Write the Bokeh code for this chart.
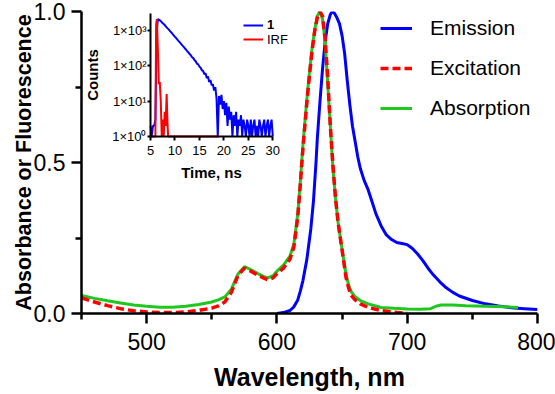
import numpy as np
from bokeh.plotting import figure
from bokeh.models import (Range1d, LinearAxis, FixedTicker, PrintfTickFormatter,
                          LogScale, Legend, LegendItem)
from bokeh.embed import file_html
from bokeh.resources import INLINE

FONT = "Liberation Sans"

# ---------------- data ----------------
em_wl = [600, 605, 610, 613, 616, 618, 620, 623, 626, 628, 630, 631, 633, 635, 637, 639, 641,
         642.5, 644, 646, 648, 650, 652, 654, 656, 658, 660, 662, 664, 667, 670, 673, 676, 680,
         684, 688, 692, 696, 700, 704, 708, 712, 716, 720, 725, 730, 735, 740, 750, 760, 770,
         780, 790, 800]
em_val = [0.0, 0.003, 0.010, 0.022, 0.045, 0.075, 0.11, 0.18, 0.28, 0.37, 0.50, 0.58, 0.70,
          0.81, 0.90, 0.96, 0.99, 1.0, 0.995, 0.98, 0.96, 0.92, 0.86, 0.77, 0.69, 0.62, 0.57,
          0.52, 0.48, 0.44, 0.41, 0.37, 0.33, 0.29, 0.26, 0.245, 0.235, 0.232, 0.228, 0.215,
          0.197, 0.175, 0.150, 0.128, 0.105, 0.085, 0.070, 0.058, 0.043, 0.032, 0.025, 0.019,
          0.016, 0.013]

abs_wl = [450, 460, 470, 480, 490, 500, 510, 520, 530, 540, 550, 555, 560, 565, 570, 575, 580,
          585, 590, 593, 597, 600, 605, 610, 613, 616, 618, 620, 623, 625, 627, 629, 631, 633,
          635, 637, 639, 641, 643, 645, 647, 649, 651, 653, 655, 657, 660, 664, 670, 680, 690,
          700, 710, 718, 722, 726, 735, 745, 760, 775, 785]
abs_val = [0.060, 0.050, 0.042, 0.035, 0.028, 0.024, 0.021, 0.021, 0.024, 0.030, 0.038, 0.045,
           0.055, 0.080, 0.130, 0.155, 0.145, 0.133, 0.122, 0.118, 0.125, 0.140, 0.160, 0.190,
           0.230, 0.330, 0.440, 0.560, 0.710, 0.800, 0.880, 0.940, 0.985, 1.000, 0.975, 0.900,
           0.760, 0.620, 0.480, 0.380, 0.300, 0.240, 0.185, 0.130, 0.095, 0.072, 0.056, 0.043,
           0.032, 0.020, 0.017, 0.015, 0.014, 0.016, 0.024, 0.028, 0.028, 0.026, 0.024, 0.022,
           0.020]

exc_wl = [450, 460, 470, 480, 490, 500, 510, 520, 530, 540, 550, 555, 560, 565, 570, 575, 580,
          585, 590, 593, 597, 600, 605, 610, 613, 616, 618, 620, 623, 625, 627, 629, 631, 633,
          635, 637, 639, 641, 643, 645, 647, 649, 651, 653, 655, 657, 660, 664, 670, 680, 690,
          700]
exc_val = [0.052, 0.038, 0.026, 0.016, 0.009, 0.005, 0.003, 0.003, 0.005, 0.010, 0.018, 0.025,
           0.038, 0.070, 0.125, 0.150, 0.140, 0.128, 0.117, 0.112, 0.118, 0.132, 0.150, 0.180,
           0.220, 0.320, 0.430, 0.550, 0.700, 0.790, 0.870, 0.935, 0.980, 1.000, 0.985, 0.910,
           0.780, 0.620, 0.490, 0.380, 0.300, 0.240, 0.180, 0.120, 0.085, 0.060, 0.045, 0.032,
           0.020, 0.010, 0.004, 0.001]

# inset: fluorescence decay of 1 and instrument response (IRF)
decay_t = [5.0, 5.25, 5.5, 5.75, 6.0, 6.25, 6.5, 6.75, 7.0, 7.25, 7.5, 7.75, 8.0, 8.25, 8.5,
           8.75, 9.0, 9.25, 9.5, 9.75, 10.0, 10.25, 10.5, 10.75, 11.0, 11.25, 11.5, 11.75, 12.0,
           12.25, 12.5, 12.75, 13.0, 13.25, 13.5, 13.75, 14.0, 14.25, 14.5, 14.75, 15.0, 15.25,
           15.5, 15.75, 16.0, 16.25, 16.5, 16.75, 17.0, 17.25, 17.5, 17.75, 18.0, 18.25, 18.5,
           18.75, 19.0, 19.25, 19.5, 19.75, 20.0, 20.25, 20.5, 20.75, 21.0, 21.25, 21.5, 21.75,
           22.0, 22.25, 22.5, 22.75, 23.0, 23.25, 23.5, 23.75, 24.0, 24.25, 24.5, 24.75, 25.0,
           25.25, 25.5, 25.75, 26.0, 26.25, 26.5, 26.75, 27.0, 27.25, 27.5, 27.75, 28.0, 28.25,
           28.5, 28.75, 29.0, 29.25, 29.5, 29.75, 30.0]
decay_counts = [2, 1, 2, 2, 3, 800, 2100, 2000, 1900, 1750, 1600, 1500, 1380, 1250, 1150, 1060,
                960, 880, 800, 730, 660, 610, 550, 500, 460, 420, 380, 350, 315, 290, 260, 240,
                215, 200, 175, 165, 145, 135, 115, 110, 95, 88, 75, 72, 58, 62, 45, 50, 35, 40,
                28, 30, 20, 25, 12, 1, 14, 8, 15, 6, 10, 4, 9, 2, 7, 3, 5, 1, 4, 2, 5, 1, 3, 2,
                4, 1, 3, 2, 1, 3, 2, 1, 3, 1, 2, 3, 1, 2, 1, 3, 2, 1, 2, 3, 1, 2, 3, 1, 2, 3, 1]

irf_t = [5.0, 6.0, 6.15, 6.3, 6.5, 6.7, 6.9, 7.1, 7.3, 7.5, 7.7, 7.9, 8.1, 8.3, 8.45, 8.6,
         19.0]
irf_counts = [1, 1, 1500, 2100, 300, 30, 35, 10, 1, 3, 1, 5, 2, 16, 3, 1, 1]

x_ticks = [500, 600, 700, 800]
x_minor = [450, 550, 650, 750]
y_ticks = [0.0, 0.5, 1.0]
y_minor = [0.25, 0.75]
t_ticks = [5, 10, 15, 20, 25, 30]
c_ticks = [1, 10, 100, 1000]
c_labels = ["1×10⁰", "1×10¹", "1×10²", "1×10³"]

x_title = "Wavelength, nm"
y_title = "Absorbance or Fluorescence"

# ---------------- layout geometry (pixels) ----------------
W, H = 555, 394
FL, FR, FT, FB = 81, 537, 11, 313          # plot frame
IX0, IX1 = 150.0, 272.3                    # inset: pixel of t=5 and t=30
IY0, IY1 = 136.0, 30.0                     # inset: pixel of counts 1 and 1000

kx = (IX1 - IX0) / (t_ticks[-1] - t_ticks[0])
t_start = t_ticks[0] - (IX0 - FL) / kx
t_end = t_ticks[-1] + (FR - IX1) / kx
ky = (IY0 - IY1) / 3.0
lg_start = 0 - (FB - IY0) / ky
lg_end = 3 + (IY1 - FT) / ky

p = figure(width=W, height=H, x_range=Range1d(450, 800), y_range=Range1d(0, 1.0),
           output_backend="svg", toolbar_location=None,
           min_border_left=FL, min_border_right=W - FR, min_border_top=FT,
           min_border_bottom=H - FB, x_axis_type=None, y_axis_type=None)
p.outline_line_color = None
p.background_fill_color = "white"
p.border_fill_color = "white"

p.extra_x_ranges = {"tx": Range1d(t_start, t_end)}
p.extra_y_ranges = {"ty": Range1d(10 ** lg_start, 10 ** lg_end)}
p.extra_y_scales = {"ty": LogScale()}

# ---------------- axes ----------------
def style_axis(ax, lw, tick_out, minor_out, label_size, title_size):
    ax.axis_line_width = lw
    ax.axis_line_color = "black"
    ax.major_tick_line_width = lw
    ax.minor_tick_line_width = lw
    ax.major_tick_line_color = "black"
    ax.minor_tick_line_color = "black"
    ax.major_tick_in = 0
    ax.minor_tick_in = 0
    ax.major_tick_out = tick_out
    ax.minor_tick_out = minor_out
    ax.major_label_text_font = FONT
    ax.major_label_text_font_size = label_size
    ax.major_label_text_color = "black"
    ax.axis_label_text_font = FONT
    ax.axis_label_text_font_size = title_size
    ax.axis_label_text_font_style = "bold"
    ax.axis_label_text_color = "black"

xax = LinearAxis(ticker=FixedTicker(ticks=x_ticks, minor_ticks=x_minor), axis_label=x_title)
style_axis(xax, 2.5, 10, 6, "23px", "25px")
xax.major_label_standoff = 9
xax.axis_label_standoff = 10
p.add_layout(xax, "below")

yax = LinearAxis(ticker=FixedTicker(ticks=y_ticks, minor_ticks=y_minor),
                 formatter=PrintfTickFormatter(format="%.1f"), axis_label=y_title)
style_axis(yax, 2.5, 10, 6, "23px", "21.5px")
yax.major_label_standoff = 6
yax.axis_label_standoff = -5
p.add_layout(yax, "left")

# ---------------- main curves ----------------
r_em = p.line(em_wl, em_val, line_color="#0000ff", line_width=3)
r_abs = p.line(abs_wl, abs_val, line_color="#1ec81e", line_width=3)
r_exc = p.line(exc_wl, exc_val, line_color="#ff0000", line_width=3.5, line_dash="8 4")

# ---------------- inset ----------------
r_dec = p.line(decay_t, decay_counts, x_range_name="tx", y_range_name="ty",
               line_color="#0000ff", line_width=2)
r_irf = p.line(irf_t, irf_counts, x_range_name="tx", y_range_name="ty",
               line_color="#ff0000", line_width=2)

ixax = LinearAxis(x_range_name="tx", y_range_name="ty", fixed_location=c_ticks[0],
                  bounds=(t_ticks[0], t_ticks[-1]),
                  ticker=FixedTicker(ticks=t_ticks, minor_ticks=[]),
                  axis_label="Time, ns")
style_axis(ixax, 2, 4, 0, "13px", "15px")
ixax.major_label_standoff = 5
ixax.axis_label_standoff = 6
p.add_layout(ixax, "below")

iyax = LinearAxis(x_range_name="tx", y_range_name="ty", fixed_location=t_ticks[0],
                  bounds=(1, 3000),
                  ticker=FixedTicker(ticks=c_ticks, minor_ticks=[]),
                  major_label_overrides=dict(zip(c_ticks, c_labels)),
                  axis_label="Counts")
style_axis(iyax, 2, 3, 0, "13px", "15px")
iyax.major_label_standoff = 1
iyax.axis_label_standoff = 8
p.add_layout(iyax, "left")

# ---------------- legends ----------------
def make_legend(items, loc, size, gw, gh, spacing, standoff, style="normal"):
    lg = Legend(items=items, location=loc)
    lg.label_text_font = FONT
    lg.label_text_font_size = size
    lg.label_text_font_style = style
    lg.label_text_color = "black"
    lg.glyph_width = gw
    lg.glyph_height = gh
    lg.label_height = gh
    lg.spacing = spacing
    lg.label_standoff = standoff
    lg.padding = 0
    lg.margin = 0
    lg.border_line_alpha = 0
    lg.background_fill_alpha = 0
    return lg

main_leg = make_legend([LegendItem(label="Emission", renderers=[r_em]),
                        LegendItem(label="Excitation", renderers=[r_exc]),
                        LegendItem(label="Absorption", renderers=[r_abs])],
                       (380 - FL, FB - (16 + 3 * 24 + 2 * 16)), "21px", 32, 24, 16, 18)
p.add_layout(main_leg)

leg1 = make_legend([LegendItem(label="1", renderers=[r_dec])],
                   (243 - FL, FB - 32), "13px", 20, 14, 0, 4, "bold")
p.add_layout(leg1)
leg2 = make_legend([LegendItem(label="IRF", renderers=[r_irf])],
                   (243 - FL, FB - 46.5), "13px", 20, 14, 0, 4)
p.add_layout(leg2)

open("out.html", "w").write(file_html(p, INLINE))
